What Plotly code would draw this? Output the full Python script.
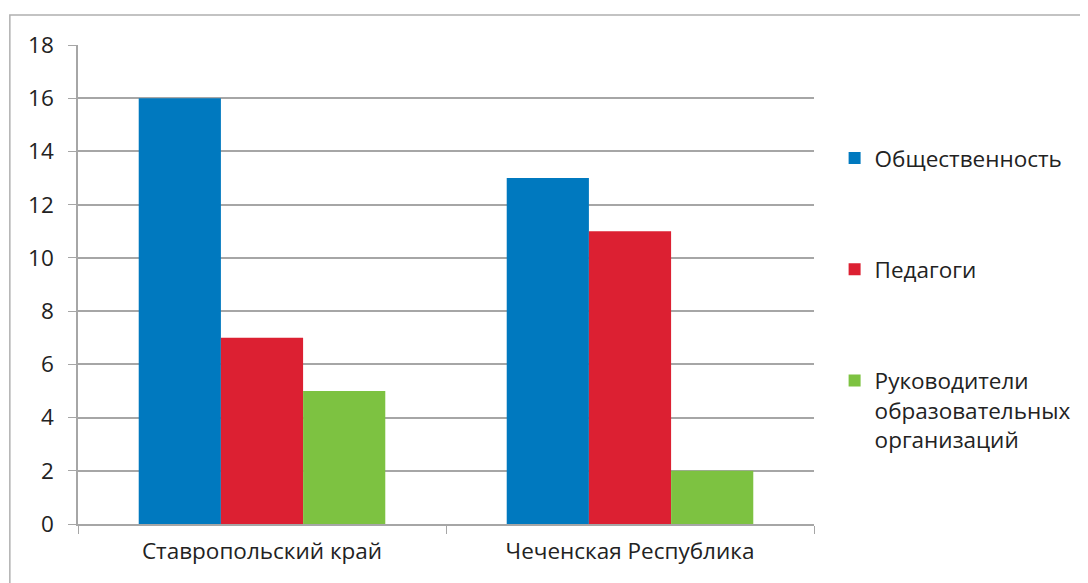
import plotly.graph_objects as go

categories = ["Ставропольский край", "Чеченская Республика"]
series_names = ["Общественность", "Педагоги", "Руководители<br>образовательных<br>организаций"]
series_values = [
    [16, 13],
    [7, 11],
    [5, 2],
]
colors = ["#0079bf", "#dc2032", "#7dc241"]
y_ticks = [0, 2, 4, 6, 8, 10, 12, 14, 16, 18]

fig = go.Figure()
for i, (name, vals, col) in enumerate(zip(series_names, series_values, colors)):
    fig.add_trace(go.Bar(
        x=categories, y=vals, name=name, marker=dict(color=col, line=dict(width=0)),
        legendgroup=f"g{i}",
    ))

font_family = "Open Sans, Calibri, sans-serif"
fs = 22.5
fig.update_layout(
    width=1080, height=575,
    margin=dict(l=70, r=265, t=37, b=59, pad=0),
    paper_bgcolor="white", plot_bgcolor="white",
    barmode="group", bargap=0.33, bargroupgap=0,
    font=dict(family=font_family, size=fs, color="#222222"),
    showlegend=True,
    legend=dict(
        x=1.028, xanchor="left", y=0.808, yanchor="top",
        tracegroupgap=79, valign="top",
        font=dict(size=fs, color="#222222"),
        itemwidth=30,
    ),
    xaxis=dict(
        showline=True, linecolor="#a6a6a6", linewidth=1.5,
        ticks="outside", tickson="boundaries", ticklen=8, tickcolor="#a6a6a6",
        showgrid=False, ticklabelstandoff=6,
        tickfont=dict(size=fs),
    ),
    yaxis=dict(
        range=[0, 18], tickvals=y_ticks,
        showline=True, linecolor="#a6a6a6", linewidth=1.5,
        ticks="outside", ticklen=8, tickcolor="#a6a6a6",
        showgrid=True, gridcolor="#a6a6a6", gridwidth=1.5,
        zeroline=False, ticklabelstandoff=10,
        tickfont=dict(size=fs),
    ),
    shapes=[dict(type="rect", xref="paper", yref="paper",
                 x0=-0.0926, x1=2, y0=-0.5, y1=1.0626,
                 line=dict(color="#b0b0b0", width=1.5), fillcolor="rgba(0,0,0,0)",
                 layer="below")],
)

fig.write_html("out.html")
